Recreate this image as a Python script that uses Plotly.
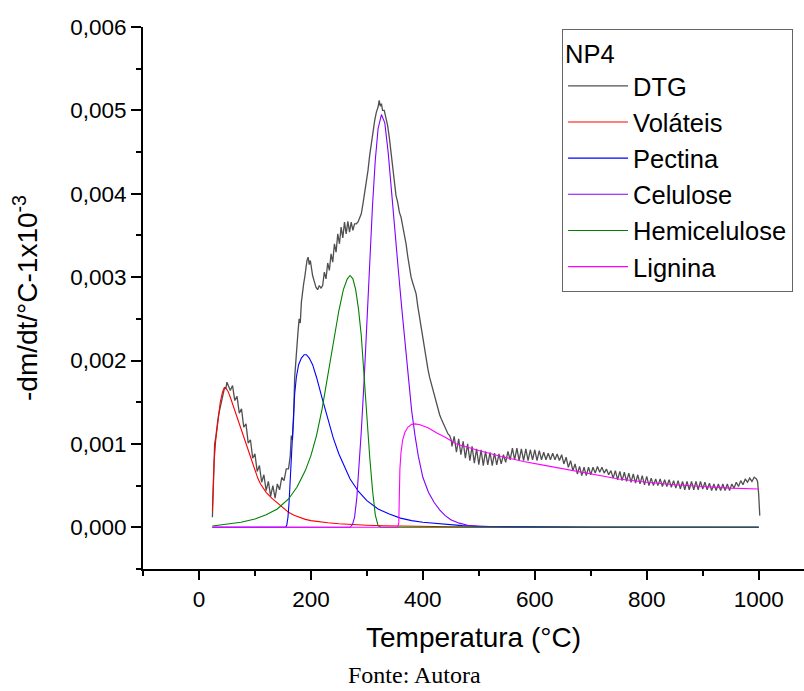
import plotly.graph_objects as go

# ---------------- data (values in units of 1e-3) ----------------
DTG_T = ([24, 25, 26, 27, 28, 30, 32, 34, 36, 38, 40, 42, 44, 46, 48, 50, 52,
          56, 60, 64, 68, 72, 76, 80, 84, 88, 92, 96, 100, 104, 108, 112, 116, 120, 124, 128, 132, 136, 140,
          144, 148, 152, 156, 160,
          163, 165, 167, 169, 171, 173, 175, 177, 179, 181, 183, 185, 187, 189, 191, 193, 195, 197, 199, 201,
          203, 206, 209, 212, 215, 218,
          221, 224, 227, 230, 233, 236, 239, 242, 245, 248, 251, 254, 257, 260, 263, 266, 269, 272, 275, 278,
          281, 284, 287, 290, 293, 296, 299, 302, 305, 308, 311, 314, 317, 320, 322, 324, 326, 328, 331, 334,
          337, 340, 343, 346, 349, 352, 355, 358, 361, 364, 367, 370, 373, 376, 379, 382, 385, 388, 391, 394,
          397, 400, 403, 406, 409, 412, 415, 418, 421, 424, 427, 430, 433, 436, 439, 442, 445, 448, 451]
         + list(range(452, 997, 4)) + [998, 1000, 1001, 1002])
DTG_V = [0.12, 0.35, 0.62, 0.85, 1.0, 1.08, 1.22, 1.3, 1.38, 1.45, 1.52, 1.58, 1.62, 1.68, 1.66, 1.74, 1.7,
         1.64, 1.70, 1.52, 1.57, 1.37, 1.42, 1.20, 1.24, 1.01, 1.05, 0.83, 0.88, 0.67, 0.74, 0.54, 0.63, 0.44,
         0.55, 0.37, 0.50, 0.35, 0.52, 0.45, 0.60, 0.56, 0.70, 0.70,
         0.85, 1.1, 1.05, 1.3, 1.8, 1.95, 2.1, 2.35, 2.5, 2.45, 2.7, 2.85, 2.92, 3.0, 3.12, 3.2, 3.24, 3.15,
         3.2, 3.08, 3.02, 2.95, 2.88, 2.85, 2.9, 2.87,
         2.90, 3.06, 2.98, 3.17, 3.08, 3.28, 3.18, 3.40, 3.30, 3.52, 3.40, 3.60, 3.47, 3.66, 3.52, 3.67, 3.54,
         3.66, 3.56, 3.64,
         3.64, 3.66, 3.7, 3.76, 3.88, 4.0, 4.12, 4.28, 4.46, 4.62, 4.78, 4.88, 4.98, 5.04, 5.12, 5.05, 5.08,
         5.0, 5.0, 4.92, 4.82, 4.68, 4.5, 4.3, 4.1, 3.98, 3.9, 3.78, 3.72, 3.62, 3.5, 3.4, 3.25, 3.1, 3.0,
         2.93, 2.87, 2.8, 2.65, 2.52, 2.38, 2.25, 2.12, 2.0, 1.9, 1.8, 1.72, 1.66, 1.58, 1.5, 1.42, 1.35, 1.3,
         1.25, 1.2, 1.17, 1.12, 1.1, 1.04,
         0.97, 1.09, 0.90, 1.06, 0.87, 1.03, 0.83, 1.00, 0.80, 0.97,
         0.77, 0.94, 0.75, 0.93, 0.74, 0.91, 0.75, 0.90, 0.74, 0.89,
         0.75, 0.88, 0.76, 0.87, 0.78, 0.91, 0.81, 0.95, 0.81, 0.95,
         0.80, 0.94, 0.80, 0.94, 0.80, 0.93, 0.81, 0.93, 0.80, 0.92,
         0.81, 0.90, 0.81, 0.89, 0.81, 0.89, 0.81, 0.88, 0.80, 0.87,
         0.76, 0.84, 0.72, 0.80, 0.68, 0.76, 0.64, 0.73, 0.62, 0.72,
         0.62, 0.72, 0.63, 0.72, 0.65, 0.73, 0.66, 0.72, 0.65, 0.70,
         0.63, 0.68, 0.59, 0.68, 0.57, 0.67, 0.56, 0.66, 0.55, 0.65,
         0.54, 0.64, 0.53, 0.63, 0.52, 0.62, 0.51, 0.61, 0.50, 0.59,
         0.50, 0.58, 0.50, 0.58, 0.49, 0.57, 0.49, 0.57, 0.48, 0.56,
         0.47, 0.56, 0.46, 0.55, 0.45, 0.55, 0.45, 0.55, 0.45, 0.55,
         0.45, 0.55, 0.46, 0.54, 0.45, 0.53, 0.44, 0.52, 0.44, 0.52,
         0.44, 0.52, 0.44, 0.52, 0.44, 0.52, 0.47, 0.54, 0.49, 0.56,
         0.51, 0.58, 0.54, 0.59, 0.55, 0.60, 0.58,
         0.55, 0.40, 0.25, 0.14]

VOL_T = [24, 25, 27, 30, 34, 38, 42, 45, 48, 52, 56, 60, 65, 70, 75, 80, 85, 90, 95, 100, 105, 110, 120,
         130, 140, 150, 160, 170, 180, 190, 200, 215, 230, 250, 270, 300, 330, 360, 400, 450, 500, 600, 700, 1000]
VOL_V = [0.20, 0.45, 0.78, 1.05, 1.32, 1.50, 1.62, 1.67, 1.67, 1.63, 1.56, 1.48, 1.38, 1.27, 1.17, 1.07, 0.98,
         0.88, 0.78, 0.68, 0.59, 0.52, 0.42, 0.35, 0.29, 0.23, 0.18, 0.145, 0.12, 0.095, 0.08, 0.065, 0.055,
         0.043, 0.034, 0.025, 0.018, 0.013, 0.009, 0.006, 0.004, 0.002, 0.001, 0.0]

PEC_T = [24, 155, 157, 159, 161, 163, 165, 167, 169, 171, 174, 178, 183, 188, 192, 197, 203, 210, 220, 230,
         240, 250, 260, 270, 285, 300, 320, 340, 360, 380, 400, 430, 470, 520, 600, 700, 1000]
PEC_V = [0.0, 0.0, 0.03, 0.12, 0.3, 0.55, 0.85, 1.15, 1.4, 1.6, 1.8, 1.95, 2.03, 2.07, 2.07, 2.03, 1.95, 1.8,
         1.55, 1.3, 1.07, 0.88, 0.72, 0.58, 0.43, 0.32, 0.22, 0.16, 0.11, 0.08, 0.06, 0.04, 0.02, 0.01, 0.004,
         0.001, 0.0]

CEL_T = [24, 270, 274, 278, 282, 286, 290, 295, 300, 305, 310, 315, 320, 326, 332, 338, 344, 350, 356, 362,
         368, 374, 380, 386, 392, 400, 410, 420, 430, 440, 450, 465, 480, 500, 550, 600, 1000]
CEL_V = [0.0, 0.0, 0.03, 0.12, 0.35, 0.7, 1.15, 1.75, 2.5, 3.2, 3.85, 4.4, 4.78, 4.95, 4.85, 4.5, 4.0, 3.55,
         3.1, 2.65, 2.2, 1.8, 1.4, 1.1, 0.85, 0.6, 0.42, 0.3, 0.21, 0.14, 0.09, 0.05, 0.025, 0.01, 0.002, 0.0,
         0.0]

HEM_T = [24, 50, 75, 100, 120, 140, 160, 175, 190, 200, 210, 220, 230, 240, 250, 258, 265, 270, 275, 280,
         285, 290, 295, 300, 305, 310, 315, 320, 325, 1000]
HEM_V = [0.015, 0.035, 0.06, 0.1, 0.15, 0.22, 0.34, 0.48, 0.68, 0.86, 1.1, 1.42, 1.8, 2.2, 2.6, 2.85, 2.98,
         3.02, 2.98, 2.85, 2.62, 2.3, 1.8, 1.3, 0.85, 0.45, 0.15, 0.02, 0.0, 0.0]

LIG_T = [24, 355, 357, 358, 359, 361, 364, 368, 373, 380, 386, 395, 410, 425, 440, 460, 480, 500, 540, 580,
         620, 660, 700, 750, 800, 850, 900, 950, 1000]
LIG_V = [0.0, 0.0, 0.05, 0.4, 0.7, 0.9, 1.05, 1.14, 1.2, 1.235, 1.24, 1.23, 1.19, 1.13, 1.08, 1.0, 0.96, 0.92,
         0.85, 0.79, 0.74, 0.69, 0.64, 0.58, 0.54, 0.51, 0.49, 0.47, 0.46]

SERIES = [
    ("DTG", DTG_T, DTG_V, "#505050", 1.3),
    ("Voláteis", VOL_T, VOL_V, "#FF0000", 1.1),
    ("Pectina", PEC_T, PEC_V, "#0000FF", 1.1),
    ("Celulose", CEL_T, CEL_V, "#8000FF", 1.1),
    ("Hemicelulose", HEM_T, HEM_V, "#008000", 1.1),
    ("Lignina", LIG_T, LIG_V, "#FF00FF", 1.1),
]
SCALE = 1e-3

X_TICKS = [0, 200, 400, 600, 800, 1000]
Y_TICKS = [0.000, 0.001, 0.002, 0.003, 0.004, 0.005, 0.006]

FONT = "Arial, 'Liberation Sans', sans-serif"

fig = go.Figure()
for name, xs, vs, color, w in SERIES:
    fig.add_trace(go.Scatter(
        x=xs, y=[v * SCALE for v in vs], mode="lines", name=name,
        line=dict(color=color, width=w),
    ))

fig.update_layout(
    width=804, height=691,
    margin=dict(l=143, r=0, t=27, b=122),
    paper_bgcolor="white", plot_bgcolor="white",
    separators=",.",
    font=dict(family=FONT, color="black", size=22.5),
    showlegend=True,
    legend=dict(
        title=dict(text="NP4", font=dict(size=25.5, family=FONT)),
        font=dict(size=25.5, family=FONT),
        x=0.634, y=0.997, xanchor="left", yanchor="top",
        bordercolor="#666666", borderwidth=1, bgcolor="white",
        tracegroupgap=0, itemwidth=60,
    ),
    annotations=[dict(
        text="Fonte: Autora", xref="paper", yref="paper", x=0.41, y=-0.196,
        xanchor="center", yanchor="middle", showarrow=False,
        font=dict(family="'Times New Roman', 'Liberation Serif', serif", size=24, color="black"),
    )],
)

fig.update_xaxes(
    range=[-100, 1081], tickvals=X_TICKS, ticktext=[str(t) for t in X_TICKS],
    showgrid=False, zeroline=False, showline=True, linecolor="black", linewidth=2,
    ticks="outside", ticklen=9, tickwidth=2, tickcolor="black",
    minor=dict(dtick=100, tick0=0, ticks="outside", ticklen=5, tickwidth=2, tickcolor="black"),
    tickfont=dict(size=22.5),
    title=dict(text="Temperatura (°C)", font=dict(size=28), standoff=16),
)
fig.update_yaxes(
    range=[-0.0005, 0.006], tickvals=Y_TICKS, tickformat=".3f",
    showgrid=False, zeroline=False, showline=True, linecolor="black", linewidth=2,
    ticks="outside", ticklen=10, tickwidth=2, tickcolor="black",
    minor=dict(dtick=0.0005, tick0=0, ticks="outside", ticklen=5, tickwidth=2, tickcolor="black"),
    tickfont=dict(size=22.5),
    title=dict(text="-dm/dt/°C-1x10<sup>-3</sup>", font=dict(size=28), standoff=24),
)

fig.write_html("out.html")
